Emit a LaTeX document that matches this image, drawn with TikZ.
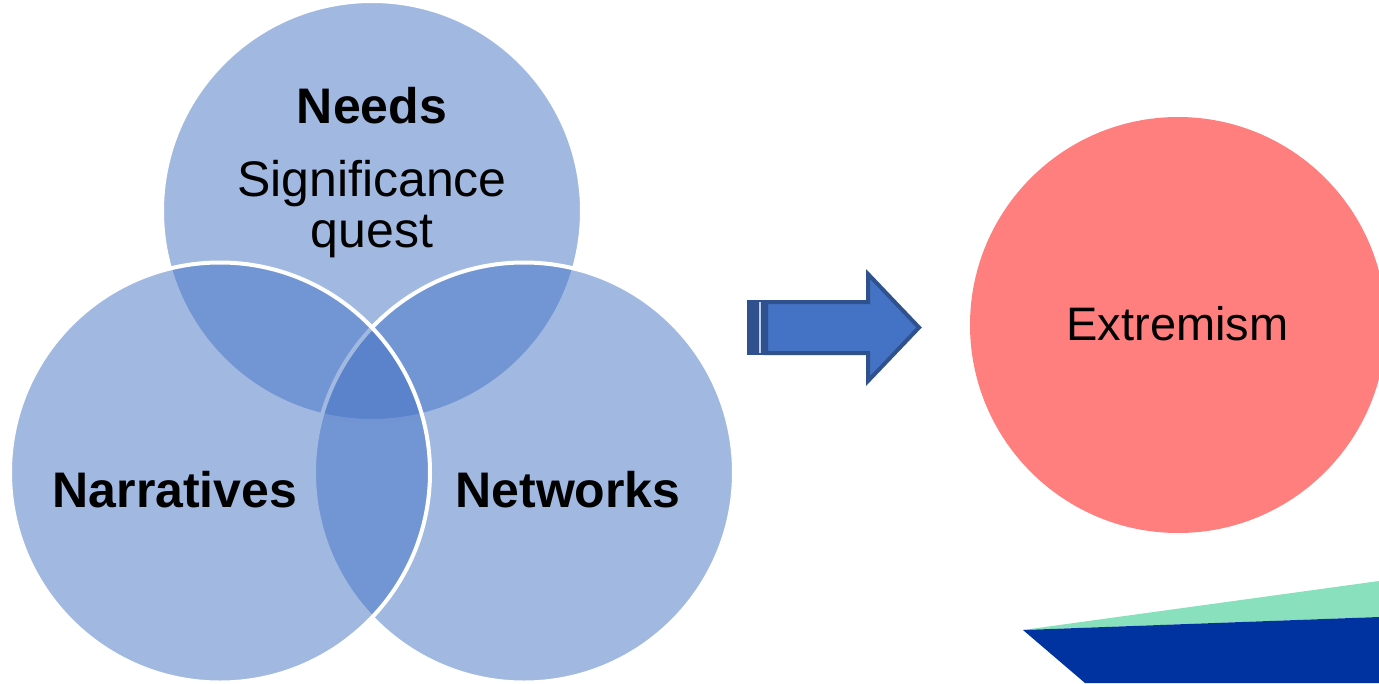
\documentclass[tikz,border=0pt]{standalone}
\usepackage{fontspec}
\setmainfont{Liberation Sans}
\definecolor{vennblue}{HTML}{4472C4}
\definecolor{arrowedge}{HTML}{2F528F}
\definecolor{extred}{HTML}{FF7F7F}
\definecolor{mint}{HTML}{88E1BC}
\definecolor{navy}{HTML}{0033A0}
\begin{document}
\begin{tikzpicture}[x=1pt,y=-1pt,
  venn/.style={circle, minimum size=420pt, inner sep=0pt, outer sep=0pt,
    fill=vennblue, fill opacity=0.5, draw=white, line width=4pt},
  lbl/.style={anchor=base, inner sep=0pt, text=black, font=\fontsize{50}{60}\selectfont},
  blbl/.style={anchor=base, inner sep=0pt, text=black, font=\fontsize{50}{60}\selectfont\bfseries},
  arrowpart/.style={fill=vennblue, draw=arrowedge, line width=4pt, line join=miter}
]
\useasboundingbox (0,0) rectangle (1379,683);
% Venn circles (drawn top, right, left)
\node[venn] (needs) at (372,211) {};
\node[venn] (networks) at (524,472.5) {};
\node[venn] (narratives) at (220,472.5) {};
% labels
\node[blbl] (needsT) at (372,123) {Needs};
\node[lbl] (sigT) at (372,196) {Significance};
\node[lbl] (questT) at (372,247) {quest};
\node[blbl] (narrT) at (175,507) {Narratives};
\node[blbl] (netwT) at (568,507) {Networks};
% striped block arrow
\fill[arrowedge] (747,300) rectangle (768,355);
\fill[vennblue!35] (759.4,302) rectangle (760.8,353);
\draw[arrowpart] (766,302) -- (868,302) -- (868,274) -- (919,327.5)
  -- (868,381) -- (868,353) -- (766,353) -- cycle;
% extremism circle
\node[circle, minimum size=416pt, inner sep=0pt, fill=extred] (extremism) at (1178,325) {};
\node[anchor=base, inner sep=0pt, text=black, font=\fontsize{47}{56}\selectfont] (extT) at (1177.5,340) {Extremism};
% bottom-right shapes
\fill[mint] (1023,630) -- (1379,581) -- (1379,617) -- cycle;
\fill[navy] (1023,630) -- (1379,617) -- (1379,683) -- (1085,683) -- cycle;
\end{tikzpicture}
\end{document}
